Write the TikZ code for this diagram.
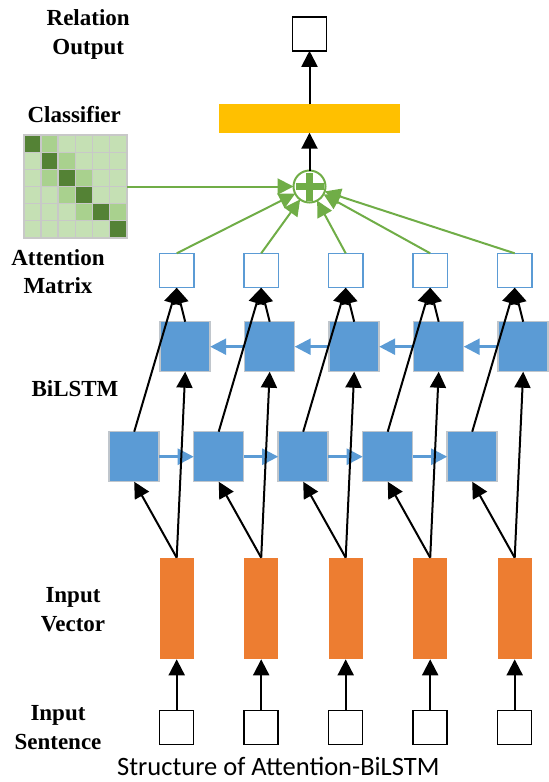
\documentclass[tikz,border=0pt]{standalone}
\usepackage{fontspec}
\setmainfont{Liberation Serif}
\newfontfamily\capfont{Carlito}
\usetikzlibrary{arrows.meta}
\definecolor{bluebox}{HTML}{5B9BD5}
\definecolor{boxedge}{HTML}{C0C6CC}
\definecolor{orangebar}{HTML}{ED7D31}
\definecolor{goldbar}{HTML}{FFC000}
\definecolor{grn}{HTML}{70AD47}
\definecolor{dkg}{HTML}{548235}
\definecolor{mdg}{HTML}{A9D18E}
\definecolor{ltg}{HTML}{C5E0B4}
\definecolor{gridg}{HTML}{C8C8C8}
\begin{document}
\begin{tikzpicture}[x=1pt,y=-1pt,
  lbl/.style={font=\bfseries\fontsize{23}{28.5}\selectfont, align=center, inner sep=0pt},
  blk/.style={black, line width=2pt, -{Triangle[length=16pt,width=16pt]}},
  bluearr/.style={bluebox, line width=2.5pt, -{Triangle[length=16pt,width=16pt]}},
  grnarr/.style={grn, line width=2pt, -{Triangle[length=16pt,width=16pt]}},
  inbox/.style={draw=black, fill=white, line width=1.5pt, minimum size=34pt, inner sep=0pt, outer sep=0pt},
  vecbar/.style={fill=orangebar, minimum width=34pt, minimum height=101.6pt, inner sep=0pt, outer sep=0pt},
  lstm/.style={draw=boxedge, fill=bluebox, line width=1.5pt, minimum size=50pt, inner sep=0pt, outer sep=0pt},
  attbox/.style={draw=bluebox, fill=white, line width=1.5pt, minimum size=34.4pt, inner sep=0pt, outer sep=0pt}]
\useasboundingbox (0,0) rectangle (549,782);

% labels
\node[lbl] (lrel) at (88.2,34.6) {Relation\\Output};
\node[lbl] (lcls) at (74.2,115) {Classifier};
\node[lbl] (latt) at (58,271.5) {Attention\\Matrix};
\node[lbl] (lbil) at (75,388.3) {BiLSTM};
\node[lbl] (lvec) at (73,609.7) {Input\\Vector};
\node[lbl] (lsen) at (58,727.5) {Input\\Sentence};
\node[font=\capfont\fontsize{26.5}{26.5}\selectfont, inner sep=0pt, anchor=base] (cap) at (278.3,775.5) {Structure of Attention-BiLSTM};

% attention matrix
\node[minimum size=103pt, inner sep=0pt, outer sep=0pt, fill=ltg] (M) at (75.3,186.5) {};
\foreach \r/\c in {1/1,2/2,3/3,4/4,5/5,6/6}
  \fill[dkg] (23.8+17.167*\c-17.167,135+17.167*\r-17.167) rectangle ++(17.167,17.167);
\foreach \r/\c in {1/2,2/3,3/2,3/4,4/3,5/4,5/6}
  \fill[mdg] (23.8+17.167*\c-17.167,135+17.167*\r-17.167) rectangle ++(17.167,17.167);
\foreach \k in {1,...,5} {
  \draw[gridg, line width=1.3pt] (23.8+17.167*\k,135) -- ++(0,103);
  \draw[gridg, line width=1.3pt] (23.8,135+17.167*\k) -- ++(103,0);
}
\draw[gridg, line width=1.5pt] (M.north west) rectangle (M.south east);

% top part
\node[inbox] (O) at (309.5,33.8) {};
\node[fill=goldbar, minimum width=181pt, minimum height=28.4pt, inner sep=0pt, outer sep=0pt] (C) at (309.5,118.5) {};
\node[circle, draw=grn, fill=white, line width=2pt, minimum size=32pt, inner sep=0pt, outer sep=0pt] (plus) at (309.5,186.5) {};
\draw[grn, line width=7pt] ([xshift=-14pt]plus.center) -- ([xshift=14pt]plus.center);
\draw[grn, line width=7pt] ([yshift=-14pt]plus.center) -- ([yshift=14pt]plus.center);

% columns
\foreach \i in {1,...,5} {
  \pgfmathsetmacro\cx{176.7+84.5*(\i-1)}
  \node[inbox] (I\i) at (\cx,727.3) {};
  \node[vecbar] (V\i) at (\cx,608.5) {};
  \node[lstm] (F\i) at (\cx-42.5,456.7) {};
  \node[lstm] (B\i) at (\cx+8.5,346.7) {};
  \node[attbox] (A\i) at (\cx,270.5) {};
}

% recurrent arrows
\foreach \i/\j in {1/2,2/3,3/4,4/5} {
  \draw[bluearr] (F\i.east) -- (F\j.west);
  \draw[bluearr] (B\j.west) -- (B\i.east);
}

% vertical connections
\foreach \i in {1,...,5} {
  \draw[blk] (I\i.north) -- (V\i.south);
  \draw[blk] (V\i.north) -- (F\i.south);
  \draw[blk] (V\i.north) -- (B\i.south);
  \draw[blk] (F\i.north) -- (A\i.south);
  \draw[blk] (B\i.north) -- (A\i.south);
  \draw[grnarr] (A\i.north) -- (plus);
}

\draw[grnarr] (M.east) -- (plus.west);
\draw[blk] (plus.north) -- (C.south);
\draw[blk] (C.north) -- (O.south);
\end{tikzpicture}
\end{document}
